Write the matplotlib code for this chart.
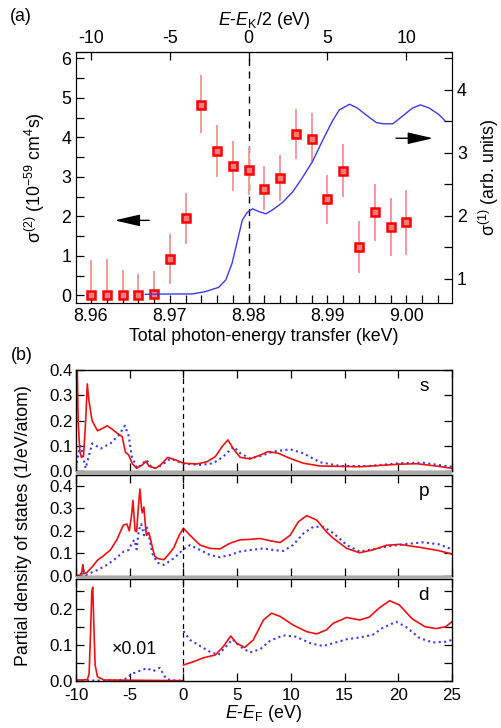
import matplotlib
matplotlib.use("Agg")
import matplotlib.pyplot as plt
from matplotlib.patches import Rectangle
from matplotlib.ticker import MultipleLocator

plt.rcParams["font.family"] = ["Liberation Sans", "DejaVu Sans"]
plt.rcParams["mathtext.fontset"] = "custom"
plt.rcParams["mathtext.rm"] = "Liberation Sans"
plt.rcParams["mathtext.it"] = "Liberation Sans:italic"
plt.rcParams["axes.unicode_minus"] = False
plt.rcParams["font.size"] = 12

# ---- panel (a): two-photon cross section (left axis) ----
energy_kev = [8.960, 8.962, 8.964, 8.966, 8.968, 8.970, 8.972, 8.974, 8.976, 8.978,
              8.980, 8.982, 8.984, 8.986, 8.988, 8.990, 8.992, 8.994, 8.996, 8.998, 9.000]
sigma2 = [0.0, 0.0, 0.0, 0.0, 0.03, 0.92, 1.95, 4.83, 3.65, 3.28,
          3.18, 2.70, 2.97, 4.08, 3.97, 2.43, 3.15, 1.23, 2.10, 1.73, 1.86]
err_lo = [0.0, 0.0, 0.0, 0.0, 0.03, 0.62, 0.65, 0.73, 0.66, 0.63,
          0.63, 0.55, 0.57, 0.63, 0.62, 0.63, 0.67, 0.66, 0.72, 0.73, 0.84]
err_hi = [0.89, 0.92, 0.65, 0.55, 0.59, 0.63, 0.65, 0.74, 0.67, 0.62,
          0.57, 0.58, 0.58, 0.64, 0.65, 0.62, 0.67, 0.65, 0.72, 0.74, 0.81]

# one-photon absorption (right axis)
xas_kev = [8.9669, 8.9702, 8.9728, 8.9745, 8.9762, 8.9771, 8.9779, 8.9786, 8.9792,
           8.9798, 8.9805, 8.9813, 8.9822, 8.9830, 8.9843, 8.9856, 8.9868, 8.9881,
           8.9894, 8.9907, 8.9915, 8.9928, 8.9938, 8.9949, 8.9962, 8.9970, 8.9983,
           8.9995, 9.0008, 9.0018, 9.0029, 9.0041, 9.0049]
sigma1 = [0.752, 0.757, 0.757, 0.794, 0.863, 0.98, 1.245, 1.615, 1.93,
          2.05, 2.11, 2.065, 2.03, 2.09, 2.21, 2.38, 2.60, 2.86,
          3.20, 3.52, 3.68, 3.77, 3.71, 3.60, 3.48, 3.46, 3.46,
          3.58, 3.71, 3.76, 3.71, 3.61, 3.51]

# ---- panel (b): partial density of states ----
s_red_e = [-10.0, -9.9, -9.8, -9.65, -9.5, -9.3, -9.1, -8.95, -8.8, -8.5, -8.0, -7.5,
           -7.1, -6.6, -6.0, -5.7, -5.4, -5.1, -4.76, -4.36, -3.83, -3.5, -3.2, -2.6,
           -2.13, -1.45, -0.74, 0.0, 1.27, 2.2, 2.97, 3.59, 4.14, 4.67, 5.29, 6.2, 7.14,
           7.9, 8.84, 9.93, 11.16, 12.7, 16.4, 20.1, 21.7, 23.5, 25.0]
s_red = [0.5, 0.45, 0.2, 0.08, 0.055, 0.06, 0.2, 0.345, 0.28, 0.2, 0.16, 0.17,
         0.18, 0.165, 0.145, 0.137, 0.075, 0.065, 0.03, 0.012, 0.025, 0.04, 0.02, 0.012,
         0.025, 0.055, 0.045, 0.032, 0.029, 0.038, 0.058, 0.097, 0.124, 0.087, 0.055, 0.049, 0.064,
         0.078, 0.071, 0.051, 0.032, 0.021, 0.018, 0.028, 0.03, 0.021, 0.012]
s_blue_e = [-10.0, -9.7, -9.56, -9.1, -8.5, -7.7, -6.8, -6.0, -5.45, -5.1, -4.8, -4.3,
            -3.43, -3.0, -2.5, -2.0, -1.2, -0.46, 0.0, 1.6, 2.78, 3.7, 4.67, 5.3, 6.2,
            7.14, 8.37, 9.93, 11.16, 12.7, 14.6, 17.3, 20.1, 22.3, 24.4, 25.0]
s_blue = [0.012, 0.09, 0.1, 0.012, 0.11, 0.09, 0.11, 0.143, 0.18, 0.14, 0.058, 0.012,
          0.045, 0.018, 0.012, 0.025, 0.05, 0.038, 0.03, 0.025, 0.032, 0.058, 0.097, 0.071, 0.051,
          0.06, 0.078, 0.087, 0.071, 0.036, 0.021, 0.021, 0.032, 0.034, 0.021, 0.018]

p_red_e = [-10.0, -9.6, -9.45, -9.37, -9.28, -9.0, -8.5, -8.0, -7.5, -6.8, -6.2, -5.6,
           -5.26, -5.04, -4.85, -4.7, -4.5, -4.36, -4.2, -4.05, -3.9, -3.83, -3.68, -3.5,
           -3.43, -3.2, -3.0, -2.7, -2.44, -1.82, -1.3, -0.9, -0.4, 0.0, 0.62, 1.55, 2.47,
           3.4, 4.33, 5.26, 6.2, 7.14, 8.07, 9.0, 9.93, 10.7, 11.47, 12.4, 13.3, 13.95,
           15.2, 16.4, 17.6, 18.9, 20.1, 22.0, 23.8, 25.0]
p_red = [0.0, 0.005, 0.02, 0.05, 0.01, 0.015, 0.04, 0.07, 0.087, 0.115, 0.16, 0.225,
         0.23, 0.2, 0.26, 0.335, 0.2, 0.196, 0.3, 0.385, 0.3, 0.28, 0.305, 0.2,
         0.18, 0.19, 0.15, 0.09, 0.078, 0.072, 0.1, 0.125, 0.18, 0.211, 0.18, 0.137, 0.122,
         0.12, 0.145, 0.16, 0.162, 0.166, 0.156, 0.148, 0.18, 0.24, 0.267, 0.248, 0.196, 0.167,
         0.122, 0.103, 0.115, 0.136, 0.14, 0.127, 0.112, 0.097]
p_blue_e = [-10.0, -9.5, -9.3, -9.1, -8.3, -7.4, -6.5, -5.57, -5.1, -4.8, -4.57, -4.36,
            -4.15, -3.93, -3.68, -3.43, -3.2, -2.9, -2.44, -1.82, -0.9, 0.0, 0.62, 1.55,
            2.47, 3.4, 4.33, 5.26, 6.2, 7.45, 8.37, 9.3, 10.2, 11.2, 12.1, 13.0, 13.95,
            15.2, 16.4, 17.6, 18.9, 20.4, 22.3, 23.8, 25.0]
p_blue = [0.0, 0.005, 0.027, 0.005, 0.02, 0.041, 0.07, 0.108, 0.115, 0.145, 0.16, 0.118,
          0.204, 0.23, 0.18, 0.22, 0.174, 0.1, 0.059, 0.049, 0.078, 0.118, 0.137, 0.115,
          0.093, 0.083, 0.093, 0.108, 0.115, 0.122, 0.115, 0.111, 0.137, 0.19, 0.218, 0.218, 0.19,
          0.137, 0.108, 0.118, 0.13, 0.14, 0.149, 0.14, 0.118]

# d states below E_F are shown x0.01
d_red_lo_e = [-10.0, -9.5, -8.93, -8.78, -8.65, -8.53, -8.44, -8.34, -8.22, -8.0, -7.4, -4.0, 0.0]
d_red_lo = [0.002, 0.002, 0.003, 0.02, 0.128, 0.25, 0.262, 0.155, 0.044, 0.011, 0.002, 0.001, 0.0]
d_blue_lo_e = [-10.0, -6.0, -5.2, -4.9, -4.3, -3.4, -2.8, -2.2, -1.9, -1.6, -1.1, 0.0]
d_blue_lo = [0.0, 0.001, 0.007, 0.018, 0.025, 0.035, 0.027, 0.036, 0.02, 0.005, 0.001, 0.0]
d_red_e = [0.0, 0.93, 1.86, 2.97, 3.7, 4.4, 4.95, 5.7, 6.5, 7.45, 8.2, 9.0, 10.2, 11.5,
           12.4, 13.3, 13.95, 15.2, 16.4, 17.3, 18.2, 19.2, 20.1, 21.3, 22.5, 23.5, 24.4, 25.0]
d_red = [0.044, 0.053, 0.064, 0.072, 0.095, 0.125, 0.105, 0.093, 0.114, 0.17, 0.189, 0.18,
         0.156, 0.137, 0.131, 0.142, 0.161, 0.177, 0.17, 0.178, 0.203, 0.224, 0.212, 0.173,
         0.151, 0.146, 0.151, 0.165]
d_blue_e = [0.0, 0.62, 1.55, 2.47, 3.25, 3.87, 4.58, 5.3, 6.2, 7.14, 8.07, 9.3, 10.5, 11.8,
            13.0, 13.95, 15.2, 16.4, 17.6, 18.5, 19.8, 20.7, 22.0, 23.2, 24.4, 25.0]
d_blue = [0.139, 0.114, 0.097, 0.081, 0.072, 0.093, 0.116, 0.095, 0.079, 0.088, 0.112, 0.127,
          0.123, 0.105, 0.097, 0.105, 0.116, 0.121, 0.128, 0.147, 0.165, 0.151, 0.119, 0.107,
          0.109, 0.114]

RED = "#f01010"
BLUE = "#3a3af0"
FS = 12.8
FS_B = 12.2


def style_ticks(ax):
    ax.tick_params(which="both", direction="in", top=True, right=True, length=6, width=0.9)
    for sp in ax.spines.values():
        sp.set_linewidth(1.0)


def plot_panel_a(fig):
    ax = fig.add_axes([0.1517, 0.5838, 0.7505, 0.3448])
    ax.errorbar(energy_kev, sigma2, yerr=[err_lo, err_hi], fmt="none",
                ecolor="#f59a9a", elinewidth=1.4, zorder=2)
    ax.plot(energy_kev, sigma2, ls="none", marker="s", ms=6, mfc="#ee8080",
            mec="#ff0000", mew=1.8, zorder=3)
    ax.axvline(8.98, color="black", ls=(0, (5, 4)), lw=1.0, zorder=1)
    ax.set_xlim(8.9581, 9.0058)
    ax.set_ylim(-0.19, 6.16)
    ax.xaxis.set_major_locator(MultipleLocator(0.01))
    ax.xaxis.set_minor_locator(MultipleLocator(0.002))
    ax.yaxis.set_major_locator(MultipleLocator(1))
    ax.yaxis.set_minor_locator(MultipleLocator(0.5))
    ax.xaxis.set_major_formatter(plt.FuncFormatter(lambda v, p: f"{v:.2f}"))
    ax.tick_params(which="both", direction="in", top=False, right=False,
                   length=6, width=0.9, labelsize=FS)
    ax.set_xlabel("Total photon-energy transfer (keV)", fontsize=FS, labelpad=2)
    ax.set_ylabel(r"σ$^{(2)}$ (10$^{-59}$ cm$^4$s)", fontsize=FS, labelpad=10)

    top = ax.secondary_xaxis("top", functions=(lambda x: (x - 8.98) * 500,
                                              lambda e: 8.98 + e / 500))
    top.xaxis.set_major_locator(MultipleLocator(5))
    top.tick_params(direction="in", length=6, width=0.9, labelsize=FS)
    top.set_xlabel(r"$E$-$E_{\rm K}$/2 (eV)", fontsize=FS, labelpad=4)

    axr = ax.twinx()
    axr.plot(xas_kev, sigma1, color=BLUE, lw=1.0)
    axr.set_ylim(0.614, 4.6)
    axr.yaxis.set_major_locator(MultipleLocator(1))
    axr.yaxis.set_minor_locator(MultipleLocator(0.5))
    axr.tick_params(which="both", direction="in", length=6, width=0.9, labelsize=FS)
    axr.set_ylabel(r"σ$^{(1)}$ (arb. units)", fontsize=FS, labelpad=7)

    arrow = dict(arrowstyle="-|>,head_length=1.3,head_width=0.3", color="black",
                 lw=1.0, shrinkA=0, shrinkB=0)
    ax.annotate("", xy=(8.9630, 1.9), xytext=(8.9674, 1.9), arrowprops=arrow)
    axr.annotate("", xy=(9.0034, 3.23), xytext=(8.9987, 3.23), arrowprops=arrow)


def plot_panel_b(fig):
    boxes = [[0.1517, 0.3526, 0.7505, 0.1392],
             [0.1517, 0.2088, 0.7505, 0.1387],
             [0.1517, 0.0650, 0.7505, 0.1393]]
    # gray band between stacked panels
    for y0, h in [(0.3475, 0.0051), (0.2043, 0.0045)]:
        fig.add_artist(Rectangle((0.1517, y0), 0.7505, h, transform=fig.transFigure,
                                 facecolor="#a8a8a8", edgecolor="none"))
    axes = [fig.add_axes(b) for b in boxes]
    series = [
        ([(s_red_e, s_red)], [(s_blue_e, s_blue)], (0, 0.4), "s"),
        ([(p_red_e, p_red)], [(p_blue_e, p_blue)], (0, 0.447), "p"),
        ([(d_red_lo_e, d_red_lo), (d_red_e, d_red)],
         [(d_blue_lo_e, d_blue_lo), (d_blue_e, d_blue)], (0, 0.284), "d"),
    ]
    for ax, (reds, blues, ylim, name) in zip(axes, series):
        for e, v in blues:
            ax.plot(e, v, color=BLUE, lw=1.5, ls=(0, (1, 1.6)))
        for e, v in reds:
            ax.plot(e, v, color=RED, lw=1.2)
        ax.axvline(0, color="black", ls=(0, (4, 3)), lw=0.9)
        ax.set_xlim(-10, 25)
        ax.set_ylim(*ylim)
        ax.xaxis.set_major_locator(MultipleLocator(5))
        ax.yaxis.set_major_locator(MultipleLocator(0.1))
        ax.yaxis.set_major_formatter(plt.FuncFormatter(lambda v, p: f"{v:.1f}"))
        style_ticks(ax)
        ax.tick_params(labelsize=FS_B, pad=2)
        ax.text(0.925, 0.84, name, transform=ax.transAxes, fontsize=FS + 1,
                ha="center", va="center")
        if name != "d":
            ax.tick_params(labelbottom=False)
    axes[2].yaxis.set_minor_locator(MultipleLocator(0.05))
    axes[2].tick_params(which="minor", direction="in", length=6, width=0.9, right=True)
    axes[2].tick_params(axis="x", pad=5)
    axes[2].text(-6.7, 0.086, "×0.01", fontsize=FS, va="center")
    axes[2].set_xlabel(r"$E$-$E_{\rm F}$ (eV)", fontsize=FS, labelpad=0)
    fig.text(0.046, 0.278, "Partial density of states (1/eV/atom)", rotation=90,
             fontsize=FS, ha="center", va="center")


def main():
    fig = plt.figure(figsize=(5.01, 7.28), dpi=100)
    plot_panel_a(fig)
    plot_panel_b(fig)
    fig.text(0.02, 0.978, "(a)", fontsize=FS, va="center")
    fig.text(0.022, 0.511, "(b)", fontsize=FS, va="center")
    fig.savefig("out.png", dpi=100)
    plt.close(fig)


if __name__ == "__main__":
    main()
